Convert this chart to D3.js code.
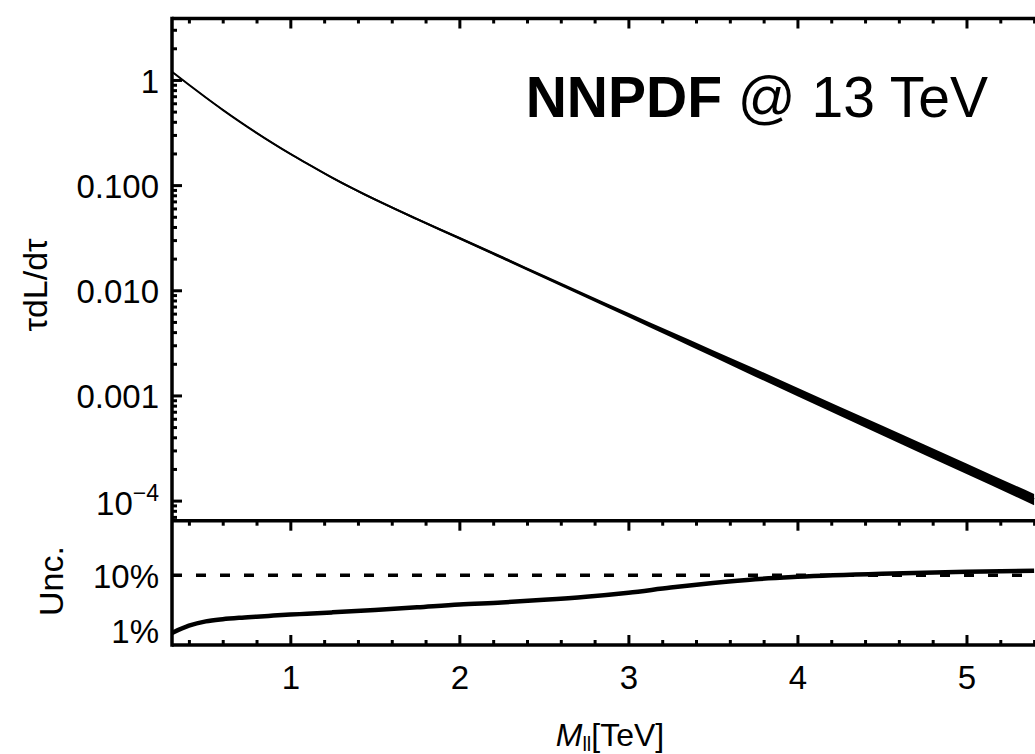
<!DOCTYPE html>
<html>
<head>
<meta charset="utf-8">
<script src="https://cdn.jsdelivr.net/npm/d3@7/dist/d3.min.js"></script>
<style>
  html, body { margin: 0; padding: 0; background: #fff; }
  svg { display: block; }
  text { font-family: "Liberation Sans", Arial, Helvetica, sans-serif; fill: #000; }
</style>
</head>
<body>
<svg id="chart" width="1035" height="754"></svg>
<script>
// ---- data ----
const massTeV = [0.3, 0.4, 0.5, 0.6, 0.7, 0.8, 0.9, 1.0, 1.1, 1.25, 1.5, 1.75, 2.0, 2.25, 2.5, 2.75, 3.0, 3.25, 3.5, 3.75, 4.0, 4.5, 5.0, 5.4];
const lumi    = [1.197, 0.899, 0.681, 0.520, 0.402, 0.314, 0.248, 0.198, 0.160, 0.117, 0.0731, 0.0475, 0.0313, 0.0206, 0.01349, 0.00886, 0.00582, 0.00382, 0.00251, 0.00165, 0.001084, 0.000468, 0.000202, 0.000103];
const unc     = [0.009, 0.0122, 0.0146, 0.0160, 0.0170, 0.0178, 0.0186, 0.0194, 0.0201, 0.0213, 0.0236, 0.0264, 0.0297, 0.0322, 0.0359, 0.0409, 0.0485, 0.0600, 0.0725, 0.0850, 0.0940, 0.107, 0.116, 0.121];

const xMajorTicks = [1, 2, 3, 4, 5];
const xMinorTicks = [0.4, 0.6, 0.8, 1.2, 1.4, 1.6, 1.8, 2.2, 2.4, 2.6, 2.8, 3.2, 3.4, 3.6, 3.8, 4.2, 4.4, 4.6, 4.8, 5.2, 5.4];
const yMajorTicks = [1e-4, 1e-3, 1e-2, 1e-1, 1];
const yMajorLabels = ["10^-4", "0.001", "0.010", "0.100", "1"];
const uncTicks = [0.01, 0.1];
const uncLabels = ["1%", "10%"];
const refLevel = 0.1;

const data = massTeV.map((m, i) => ({ m, c: lumi[i], u: unc[i] }));

// ---- layout ----
const L = 172, R = 1035, T = 18.5, MID = 520.7, B = 645;
const svg = d3.select("#chart");

const x = d3.scaleLinear().domain([0.3, 5.5]).range([L, 1051]);
const yTop = d3.scaleLog().domain([6.44e-5, 3.84]).range([MID, T]);
const yBot = d3.scaleLog().domain([0.00545, 0.98]).range([B, MID]);

// minor ticks for log axis
const yMinor = [];
for (let e = -5; e <= 0; e++) for (let k = 2; k <= 9; k++) {
  const v = k * Math.pow(10, e);
  if (v > 6.44e-5 && v < 3.84) yMinor.push(v);
}

const defs = svg.append("defs");
defs.append("clipPath").attr("id", "clipTop")
  .append("rect").attr("x", L).attr("y", T).attr("width", R - L).attr("height", MID - T);
defs.append("clipPath").attr("id", "clipBot")
  .append("rect").attr("x", L).attr("y", MID).attr("width", R - L).attr("height", B - MID);

// ---- top panel: band + central line ----
const gTop = svg.append("g").attr("clip-path", "url(#clipTop)");
gTop.append("path").datum(data)
  .attr("d", d3.area().curve(d3.curveMonotoneX)
    .x(d => x(d.m)).y0(d => yTop(d.c * (1 - d.u))).y1(d => yTop(d.c * (1 + d.u))))
  .attr("fill", "#000");
gTop.append("path").datum(data)
  .attr("d", d3.line().curve(d3.curveMonotoneX).x(d => x(d.m)).y(d => yTop(d.c)))
  .attr("fill", "none").attr("stroke", "#000").attr("stroke-width", 2);

// ---- bottom panel ----
const gBot = svg.append("g").attr("clip-path", "url(#clipBot)");
gBot.append("line")
  .attr("x1", L).attr("x2", R).attr("y1", yBot(refLevel)).attr("y2", yBot(refLevel))
  .attr("stroke", "#000").attr("stroke-width", 3.5).attr("stroke-dasharray", "10,14");
gBot.append("path").datum(data)
  .attr("d", d3.line().curve(d3.curveMonotoneX).x(d => x(d.m)).y(d => yBot(d.u)))
  .attr("fill", "none").attr("stroke", "#000").attr("stroke-width", 4.5);

// ---- axes ----
function styleAxis(g, w) {
  g.select(".domain").remove();
  g.selectAll(".tick line").attr("stroke", "#000").attr("stroke-width", w);
}

// top panel left: major + minor inward ticks
const axL = svg.append("g").attr("transform", `translate(${L},0)`)
  .call(d3.axisLeft(yTop).tickValues(yMajorTicks).tickSize(-10).tickPadding(13)
    .tickFormat((d, i) => yMajorLabels[i]));
styleAxis(axL, 3);
axL.selectAll(".tick text").attr("font-size", 33).attr("dy", "0.37em").each(function(d, i) {
  const lab = yMajorLabels[i];
  if (lab.includes("^")) {
    const [b, e] = lab.split("^");
    const t = d3.select(this).text(null).attr("dy", "0.43em");
    t.append("tspan").text(b);
    t.append("tspan").text("\u2212" + e.replace("-", "")).attr("font-size", 23).attr("dy", "-0.62em");
  }
});
const axLm = svg.append("g").attr("transform", `translate(${L},0)`)
  .call(d3.axisLeft(yTop).tickValues(yMinor).tickSize(-5).tickFormat(""));
styleAxis(axLm, 3);

// bottom panel left labels
const axLb = svg.append("g").attr("transform", `translate(${L},0)`)
  .call(d3.axisLeft(yBot).tickValues(uncTicks).tickSize(0).tickPadding(13)
    .tickFormat((d, i) => uncLabels[i]));
styleAxis(axLb, 0);
axLb.selectAll(".tick text").attr("font-size", 33).attr("dy", "0.36em");

// x ticks: top frame (down), mid frame (down), bottom frame (up)
function xTicks(y, dir, withLabels) {
  const mk = dir === "down" ? d3.axisTop : d3.axisBottom;
  const gM = svg.append("g").attr("transform", `translate(0,${y})`)
    .call(mk(x).tickValues(xMajorTicks).tickSize(-10).tickPadding(21)
      .tickFormat(withLabels ? d3.format("d") : ""));
  styleAxis(gM, 3);
  gM.selectAll(".tick text").attr("font-size", 33);
  const gm = svg.append("g").attr("transform", `translate(0,${y})`)
    .call(mk(x).tickValues(xMinorTicks).tickSize(-5).tickFormat(""));
  styleAxis(gm, 3);
}
xTicks(T, "down", false);
xTicks(MID, "down", false);
xTicks(B, "up", true);

// frames
const frame = svg.append("g").attr("stroke", "#000").attr("stroke-width", 3.5);
frame.append("line").attr("x1", L).attr("x2", L).attr("y1", T - 1.75).attr("y2", B + 1.75);
frame.append("line").attr("x1", L).attr("x2", R).attr("y1", T).attr("y2", T);
frame.append("line").attr("x1", L).attr("x2", R).attr("y1", MID).attr("y2", MID);
frame.append("line").attr("x1", L).attr("x2", R).attr("y1", B).attr("y2", B);

// ---- labels ----
svg.append("text").attr("transform", "translate(47,285) rotate(-90)")
  .attr("text-anchor", "middle").attr("font-size", 34).text("\u03C4dL/d\u03C4");
svg.append("text").attr("transform", "translate(63,581) rotate(-90)")
  .attr("text-anchor", "middle").attr("font-size", 34).text("Unc.");

const xl = svg.append("text").attr("x", 610).attr("y", 746).attr("text-anchor", "middle").attr("font-size", 32);
xl.append("tspan").attr("font-style", "italic").text("M");
xl.append("tspan").attr("font-size", 20).attr("dy", 5).text("ll");
xl.append("tspan").attr("dy", -5).text("[TeV]");

const title = svg.append("text").attr("x", 988).attr("y", 117).attr("text-anchor", "end").attr("font-size", 57);
title.append("tspan").attr("font-weight", "bold").text("NNPDF");
title.append("tspan").text(" @ 13 TeV");
</script>
</body>
</html>
